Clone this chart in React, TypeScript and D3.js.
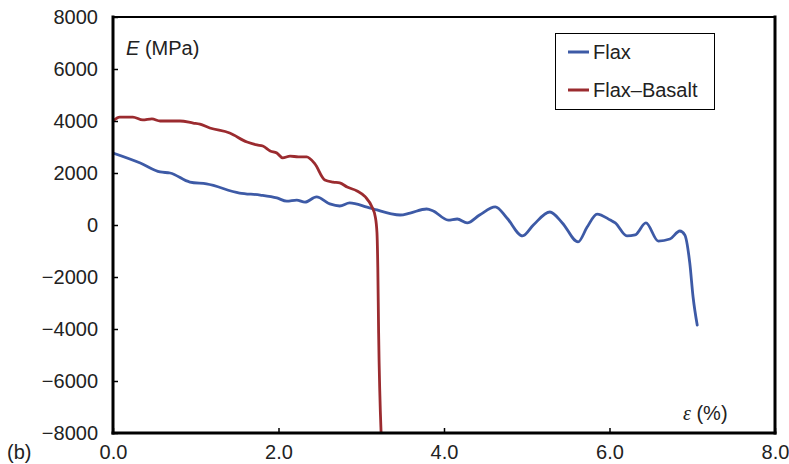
import React, { useEffect, useRef } from "react";
import * as d3 from "d3";

// strain (%) and modulus (MPa)
const flaxStrain = [0, 0.33, 0.57, 0.69, 0.93, 1.13, 1.53, 1.78, 1.98, 2.1, 2.22, 2.32, 2.46, 2.62, 2.74, 2.86, 3.07, 3.19, 3.35, 3.47, 3.59, 3.79, 3.87, 4.05, 4.16, 4.28, 4.43, 4.62, 4.76, 4.95, 5.08, 5.28, 5.43, 5.62, 5.73, 5.85, 6.01, 6.07, 6.21, 6.31, 6.44, 6.59, 6.73, 6.85, 6.91, 6.97, 7.01, 7.06];
const flaxModulus = [2770, 2385, 2040, 2000, 1650, 1580, 1230, 1150, 1040, 920, 960, 880, 1080, 810, 730, 850, 690, 580, 440, 385, 460, 615, 540, 190, 230, 80, 385, 700, 270, -420, 0, 500, 80, -650, -80, 420, 190, 80, -420, -380, 80, -620, -540, -230, -380, -1460, -2770, -3850];

const basaltStrain = [0, 0.08, 0.24, 0.36, 0.47, 0.57, 0.81, 0.97, 1.05, 1.17, 1.41, 1.62, 1.74, 1.81, 1.9, 1.98, 2.05, 2.14, 2.24, 2.34, 2.44, 2.56, 2.66, 2.74, 2.83, 2.95, 3.05, 3.13, 3.17, 3.19, 3.2, 3.21, 3.24];
const basaltModulus = [4000, 4150, 4150, 4040, 4080, 4000, 4000, 3920, 3880, 3730, 3540, 3190, 3080, 3040, 2850, 2770, 2580, 2650, 2620, 2620, 2350, 1730, 1650, 1620, 1460, 1310, 1080, 690, 310, -300, -1620, -4150, -8000];

const xTicks = [0, 2, 4, 6, 8];
const yTicks = [-8000, -6000, -4000, -2000, 0, 2000, 4000, 6000, 8000];

const seriesNames = ["Flax", "Flax\u2013Basalt"];
const seriesColors = ["#3d5aa6", "#9b2b2f"];

const W = 789;
const H = 464;
const left = 113;
const right = 775;
const top = 17;
const bottom = 433;
const font = "'Liberation Sans', Arial, Helvetica, sans-serif";

export default function App() {
  const ref = useRef<SVGSVGElement>(null);

  useEffect(() => {
    const svg = d3.select(ref.current);
    svg.selectAll("*").remove();

    const x = d3.scaleLinear().domain([0, 8]).range([left, right]);
    const y = d3.scaleLinear().domain([-8000, 8000]).range([bottom, top]);

    const clip = svg.append("clipPath").attr("id", "plot-clip");
    clip.append("rect").attr("x", left).attr("y", top).attr("width", right - left).attr("height", bottom - top);

    const line = d3
      .line<[number, number]>()
      .x((d) => x(d[0]))
      .y((d) => y(d[1]))
      .curve(d3.curveMonotoneX);

    const flaxData = flaxStrain.map((s, i) => [s, flaxModulus[i]] as [number, number]);
    const basaltData = basaltStrain.map((s, i) => [s, basaltModulus[i]] as [number, number]);

    const plot = svg.append("g").attr("clip-path", "url(#plot-clip)");
    [flaxData, basaltData].forEach((data, i) => {
      plot
        .append("path")
        .datum(data)
        .attr("d", line)
        .attr("fill", "none")
        .attr("stroke", seriesColors[i])
        .attr("stroke-width", 2.8)
        .attr("stroke-linejoin", "round")
        .attr("stroke-linecap", "round");
    });

    // y axis, ticks pointing inward
    const yAxis = svg
      .append("g")
      .attr("transform", `translate(${left},0)`)
      .call(
        d3
          .axisLeft(y)
          .tickValues(yTicks)
          .tickSize(-5)
          .tickPadding(15)
          .tickFormat((d) => (+d < 0 ? "\u2212" + Math.abs(+d) : String(d)))
      );
    yAxis.select(".domain").remove();
    yAxis.selectAll("line").attr("stroke", "#000").attr("stroke-width", 1.5);
    yAxis.selectAll("text").attr("font-family", font).attr("font-size", 20).attr("fill", "#222");

    const xAxis = svg
      .append("g")
      .attr("transform", `translate(0,${bottom})`)
      .call(
        d3
          .axisBottom(x)
          .tickValues(xTicks)
          .tickSize(-5)
          .tickPadding(12)
          .tickFormat(d3.format(".1f"))
      );
    xAxis.select(".domain").remove();
    xAxis.selectAll("line").attr("stroke", "#000").attr("stroke-width", 1.5);
    xAxis.selectAll("text").attr("font-family", font).attr("font-size", 20).attr("fill", "#222");

    // frame
    const frame = svg.append("g").attr("stroke", "#000").attr("stroke-linecap", "square");
    frame.append("line").attr("x1", left).attr("x2", right).attr("y1", top).attr("y2", top).attr("stroke-width", 2);
    frame.append("line").attr("x1", right).attr("x2", right).attr("y1", top).attr("y2", bottom).attr("stroke-width", 3);
    frame.append("line").attr("x1", left).attr("x2", right).attr("y1", bottom).attr("y2", bottom).attr("stroke-width", 3);
    frame.append("line").attr("x1", left).attr("x2", left).attr("y1", top).attr("y2", bottom).attr("stroke-width", 3);

    // axis titles
    const eLabel = svg
      .append("text")
      .attr("x", 126)
      .attr("y", 55)
      .attr("font-family", font)
      .attr("font-size", 20)
      .attr("fill", "#222");
    eLabel.append("tspan").attr("font-style", "italic").text("E");
    eLabel.append("tspan").text(" (MPa)");

    const epsLabel = svg
      .append("text")
      .attr("x", 683)
      .attr("y", 420)
      .attr("font-family", font)
      .attr("font-size", 20)
      .attr("fill", "#222");
    epsLabel.append("tspan").attr("font-style", "italic").attr("font-family", "'Liberation Serif', serif").text("\u03b5");
    epsLabel.append("tspan").text(" (%)");

    svg
      .append("text")
      .attr("x", 7)
      .attr("y", 459)
      .attr("font-family", font)
      .attr("font-size", 20)
      .attr("fill", "#222")
      .text("(b)");

    // legend
    const legend = svg.append("g");
    legend
      .append("rect")
      .attr("x", 555.5)
      .attr("y", 33.5)
      .attr("width", 159)
      .attr("height", 76)
      .attr("fill", "#fff")
      .attr("stroke", "#000")
      .attr("stroke-width", 1);
    seriesNames.forEach((name, i) => {
      const ly = 52 + i * 38;
      legend
        .append("line")
        .attr("x1", 568)
        .attr("x2", 589)
        .attr("y1", ly)
        .attr("y2", ly)
        .attr("stroke", seriesColors[i])
        .attr("stroke-width", 3);
      legend
        .append("text")
        .attr("x", 593)
        .attr("y", ly + 7)
        .attr("font-family", font)
        .attr("font-size", 20)
        .attr("fill", "#222")
        .text(name);
    });
  }, []);

  return (
    <svg
      ref={ref}
      width={W}
      height={H}
      style={{ position: "absolute", left: 0, top: 0, background: "#fff" }}
    />
  );
}
